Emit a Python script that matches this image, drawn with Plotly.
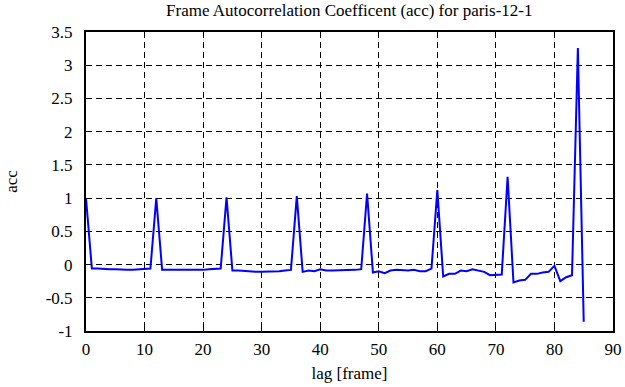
import plotly.graph_objects as go

lags = list(range(0, 86))
acc = [1.0, -0.06, -0.06, -0.07, -0.07, -0.07, -0.08, -0.08, -0.08, -0.07, -0.07, -0.06,
       1.0, -0.08, -0.08, -0.08, -0.09, -0.09, -0.08, -0.08, -0.08, -0.07, -0.07, -0.06,
       1.01, -0.09, -0.09, -0.10, -0.10, -0.11, -0.11, -0.11, -0.10, -0.10, -0.09, -0.08,
       1.03, -0.11, -0.09, -0.10, -0.07, -0.09, -0.09, -0.09, -0.08, -0.09, -0.08, -0.07,
       1.07, -0.12, -0.10, -0.13, -0.09, -0.08, -0.09, -0.09, -0.08, -0.10, -0.10, -0.06,
       1.12, -0.18, -0.14, -0.14, -0.09, -0.10, -0.07, -0.09, -0.11, -0.16, -0.16, -0.15,
       1.32, -0.27, -0.24, -0.23, -0.14, -0.14, -0.12, -0.11, -0.02, -0.25, -0.19, -0.16,
       3.26, -0.86]

x_ticks = [0, 10, 20, 30, 40, 50, 60, 70, 80, 90]
x_tick_text = ["0", "10", "20", "30", "40", "50", "60", "70", "80", "90"]
y_ticks = [-1, -0.5, 0, 0.5, 1, 1.5, 2, 2.5, 3, 3.5]
y_tick_text = ["-1", "-0.5", "0", "0.5", "1", "1.5", "2", "2.5", "3", "3.5"]

font = "Liberation Serif"
tfont = dict(family=font, size=17, color="black")

fig = go.Figure()
fig.add_trace(go.Scatter(x=lags, y=acc, mode="lines",
                         line=dict(color="#0000ff", width=2)))

axis_common = dict(
    showline=True, linecolor="black", linewidth=2, mirror="ticks",
    ticks="inside", ticklen=6, tickwidth=1, tickcolor="black",
    showgrid=True, gridcolor="black", gridwidth=1, griddash="6px,4px",
    zeroline=False, automargin=False,
)

fig.update_layout(
    width=625, height=387,
    margin=dict(l=86, r=12, t=32, b=56),
    paper_bgcolor="white", plot_bgcolor="white",
    showlegend=False,
    font=tfont,
    title=dict(text="Frame Autocorrelation Coefficent (acc) for paris-12-1",
               x=0.5589, xanchor="center", y=0.974, yanchor="middle",
               font=tfont),
    xaxis=dict(range=[0, 90], tickvals=x_ticks, ticktext=x_tick_text, tickfont=tfont,
               title=dict(text="lag [frame]", standoff=9, font=tfont),
               ticklabelstandoff=2, **axis_common),
    yaxis=dict(range=[-1, 3.5], tickvals=y_ticks, ticktext=y_tick_text, tickfont=tfont,
               title=dict(text="acc", standoff=24, font=tfont),
               ticklabelstandoff=8, **axis_common),
)

fig.write_html("out.html", config={"displayModeBar": False},
               post_script="document.body.style.margin='0';document.body.style.overflow='hidden';")
